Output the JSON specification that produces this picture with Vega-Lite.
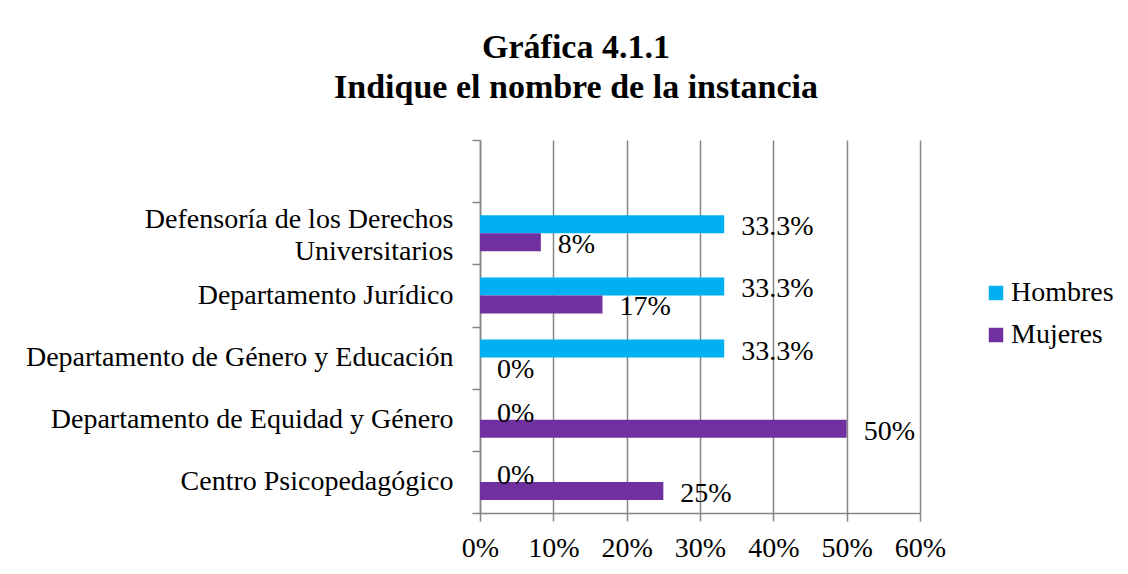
{
  "$schema": "https://vega.github.io/schema/vega-lite/v6.json",
  "width": 440,
  "height": 373,
  "autosize": {"type": "none"},
  "padding": {"left": 480, "top": 140, "right": 208, "bottom": 61},
  "background": "white",
  "config": {"view": {"stroke": null}},
  "title": {
    "text": "Gráfica 4.1.1",
    "subtitle": "Indique el nombre de la instancia",
    "font": "Liberation Serif",
    "fontSize": 34,
    "fontWeight": "bold",
    "color": "black",
    "subtitleFont": "Liberation Serif",
    "subtitleFontSize": 34,
    "subtitleFontWeight": "bold",
    "subtitleColor": "black",
    "subtitlePadding": 6,
    "anchor": "middle",
    "frame": "group",
    "dx": -124,
    "offset": 21
  },
  "data": {
    "values": [
      {"inst": "Defensoría de los Derechos Universitarios", "sexo": "Hombres", "pct": 33.3, "label": "33.3%"},
      {"inst": "Defensoría de los Derechos Universitarios", "sexo": "Mujeres", "pct": 8.3, "label": "8%"},
      {"inst": "Departamento Jurídico", "sexo": "Hombres", "pct": 33.3, "label": "33.3%"},
      {"inst": "Departamento Jurídico", "sexo": "Mujeres", "pct": 16.7, "label": "17%"},
      {"inst": "Departamento de Género y Educación", "sexo": "Hombres", "pct": 33.3, "label": "33.3%"},
      {"inst": "Departamento de Género y Educación", "sexo": "Mujeres", "pct": 0, "label": "0%"},
      {"inst": "Departamento de Equidad y Género", "sexo": "Hombres", "pct": 0, "label": "0%"},
      {"inst": "Departamento de Equidad y Género", "sexo": "Mujeres", "pct": 50, "label": "50%"},
      {"inst": "Centro Psicopedagógico", "sexo": "Hombres", "pct": 0, "label": "0%"},
      {"inst": "Centro Psicopedagógico", "sexo": "Mujeres", "pct": 25, "label": "25%"}
    ]
  },
  "encoding": {
    "y": {
      "field": "inst",
      "type": "nominal",
      "scale": {
        "domain": [" ", "Defensoría de los Derechos Universitarios", "Departamento Jurídico", "Departamento de Género y Educación", "Departamento de Equidad y Género", "Centro Psicopedagógico"],
        "paddingInner": 0,
        "paddingOuter": 0
      },
      "axis": {
        "title": null,
        "labelFont": "Liberation Serif",
        "labelFontSize": 28,
        "labelColor": "black",
        "labelPadding": 19,
        "labelLimit": 700,
        "labelLineHeight": 32,
        "labelExpr": "datum.value == 'Defensoría de los Derechos Universitarios' ? ['Defensoría de los Derechos', 'Universitarios\u00a0\u00a0\u00a0\u00a0\u00a0\u00a0\u00a0\u00a0\u00a0\u00a0'] : datum.label",
        "labelBaseline": {"condition": {"test": "datum.value == 'Defensoría de los Derechos Universitarios'", "value": "bottom"}, "value": "middle"},
        "tickSize": 8,
        "tickColor": "#868686",
        "tickWidth": 1.5,
        "tickBand": "extent",
        "domainColor": "#868686",
        "domainWidth": 1.5,
        "grid": false
      }
    },
    "x": {
      "field": "pct",
      "type": "quantitative",
      "scale": {"domain": [0, 60], "nice": false},
      "axis": {
        "title": null,
        "values": [0, 10, 20, 30, 40, 50, 60],
        "labelExpr": "datum.value + '%'",
        "labelFont": "Liberation Serif",
        "labelFontSize": 28,
        "labelColor": "black",
        "labelPadding": 13,
        "labelFlush": false,
        "tickSize": 8,
        "tickColor": "#868686",
        "tickWidth": 1.5,
        "domainColor": "#868686",
        "domainWidth": 1.5,
        "grid": true,
        "gridColor": "#868686",
        "gridWidth": 1.5
      }
    }
  },
  "layer": [
    {
      "mark": {"type": "bar"},
      "encoding": {
        "yOffset": {"field": "sexo", "type": "nominal", "scale": {"domain": ["Hombres", "Mujeres"], "paddingInner": 0, "paddingOuter": 0.728}},
        "color": {
          "field": "sexo",
          "type": "nominal",
          "scale": {"domain": ["Hombres", "Mujeres"], "range": ["#00B0F0", "#7030A0"]},
          "legend": {
            "title": null,
            "orient": "none",
            "legendX": 502,
            "legendY": 139,
            "symbolType": "square",
            "symbolSize": 210,
            "symbolStrokeWidth": 0,
            "labelFont": "Liberation Serif",
            "labelFontSize": 28,
            "labelColor": "black",
            "labelOffset": 1,
            "rowPadding": 14
          }
        }
      }
    },
    {
      "mark": {"type": "text", "align": "left", "baseline": "middle", "dx": 17, "dy": 3, "font": "Liberation Serif", "fontSize": 28, "color": "black"},
      "encoding": {
        "yOffset": {"field": "sexo", "type": "nominal", "scale": {"domain": ["Hombres", "Mujeres"], "paddingInner": 0, "paddingOuter": 0.728}},
        "text": {"field": "label"}
      }
    }
  ]
}
